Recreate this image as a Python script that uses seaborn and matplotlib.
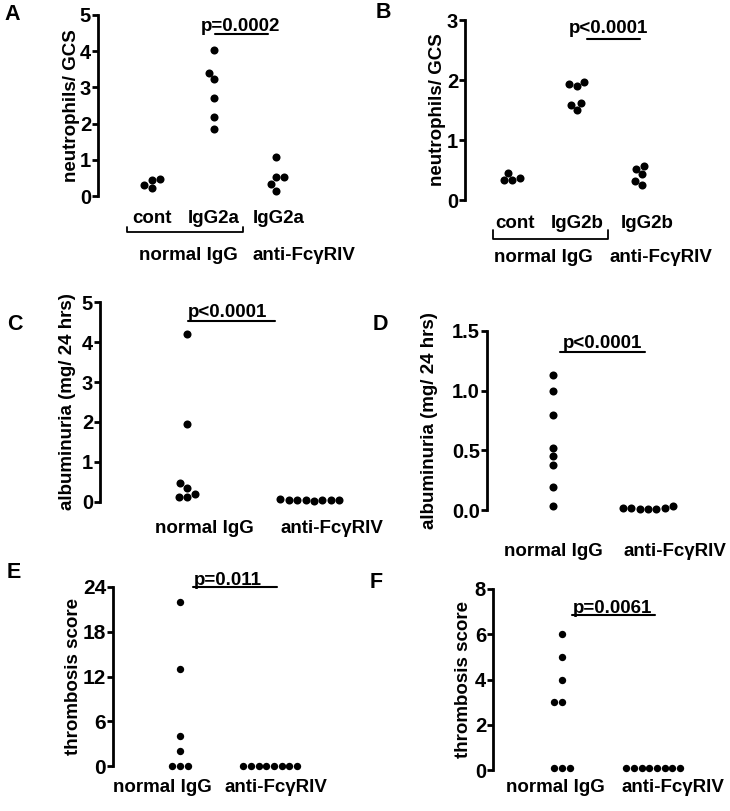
import numpy as np
import pandas as pd
import matplotlib
matplotlib.use("Agg")
import matplotlib.pyplot as plt
import matplotlib.transforms as mtransforms
import seaborn as sns

# panel A: neutrophils / GCS
a_keys = ["cont", "IgG2a", "anti IgG2a"]
a_ticklabels = ["cont", "IgG2a", "IgG2a"]
a_cont = [0.44, 0.21, 0.47, 0.30]
a_igg2a = [4.02, 3.40, 3.22, 2.70, 2.18, 1.85]
a_anti = [1.08, 0.52, 0.52, 0.32, 0.14]

# panel B
b_keys = ["cont", "IgG2b", "anti IgG2b"]
b_ticklabels = ["cont", "IgG2b", "IgG2b"]
b_cont = [0.37, 0.33, 0.45, 0.33]
b_igg2b = [1.94, 1.90, 1.97, 1.62, 1.50, 1.59]
b_anti = [0.57, 0.43, 0.52, 0.25, 0.32]

# two-group panels
two_keys = ["normal IgG", "anti-FcγRIV"]
c_normal = [4.21, 1.96, 0.48, 0.21, 0.13, 0.13, 0.36]
c_anti = [0.04, 0.04, 0.03, 0.04, 0.07, 0.04, 0.04, 0.04]
d_normal = [1.13, 1.00, 0.80, 0.52, 0.45, 0.38, 0.19, 0.03]
d_anti = [0.02, 0.01, 0.02, 0.01, 0.03, 0.01, 0.02]
e_normal = [22, 13, 4, 2, 0, 0, 0]
e_anti = [0, 0, 0, 0, 0, 0, 0, 0]
f_normal = [6, 5, 4, 3, 3, 0.08, 0.08, 0.08]
f_anti = [0.08, 0.08, 0.08, 0.08, 0.08, 0.08, 0.08, 0.08]

W, H = 730, 811
sns.set_style("white")
plt.rcParams["font.family"] = ["Liberation Sans", "DejaVu Sans"]
plt.rcParams["font.weight"] = "bold"
plt.rcParams["axes.labelweight"] = "bold"
plt.rcParams["text.color"] = "black"
plt.rcParams["axes.labelcolor"] = "black"
plt.rcParams["xtick.color"] = "black"
plt.rcParams["ytick.color"] = "black"

fig = plt.figure(figsize=(W / 100, H / 100), dpi=100)


def make_axes(left, top, bottom, cat0, step, right_units):
    x0 = -(cat0 - left) / step
    right = left + (right_units - x0) * step
    ax = fig.add_axes([left / W, 1 - bottom / H, (right - left) / W, (bottom - top) / H])
    return ax, (x0, right_units), right - left


def swarm(ax, keys, series, size):
    df = pd.DataFrame({
        "group": [k for k, v in zip(keys, series) for _ in v],
        "value": [x for v in series for x in v],
    })
    sns.swarmplot(data=df, x="group", y="value", order=keys, color="black",
                  size=size, linewidth=0, ax=ax)
    for c in ax.collections:
        c.set_clip_on(False)


def style(ax, xlim, ylim, yticks, ticklabels, tickpos, ylabel, label_px, left_px, width_px,
          xpad, tick_fs=14.5, fmt="{:g}"):
    ax.set_xlim(*xlim)
    ax.set_ylim(*ylim)
    ax.set_yticks(yticks)
    ax.set_yticklabels([fmt.format(t) for t in yticks], fontsize=tick_fs, fontweight="bold")
    ax.set_xticks(tickpos)
    ax.set_xticklabels(ticklabels, fontsize=13.5, fontweight="bold")
    ax.set_xlabel("")
    ax.set_ylabel(ylabel, fontsize=13.5, fontweight="bold")
    ax.yaxis.set_label_coords((label_px - left_px) / width_px, 0.5)
    ax.yaxis.label.set_verticalalignment("center")
    for s in ["top", "right", "bottom"]:
        ax.spines[s].set_visible(False)
    ax.spines["left"].set_linewidth(2)
    ax.spines["left"].set_color("black")
    ax.tick_params(axis="y", direction="out", length=4, width=2, pad=1, left=True)
    ax.tick_params(axis="x", length=0, pad=xpad)
    ax.grid(False)
    ax.patch.set_alpha(0)


def pvalue(ax, text, xt, yt, x1, x2, yl):
    ax.text(xt, yt, text, ha="center", va="baseline", fontsize=13.5,
            fontweight="bold", clip_on=False)
    ax.plot([x1, x2], [yl, yl], color="black", lw=1.5, clip_on=False)


def bracket(ax, x1, x2, ybot, ytop, lab_y, lab1_x, lab2_x):
    trans = mtransforms.blended_transform_factory(ax.transData, ax.transAxes)
    ax.plot([x1, x1, x2, x2], [ytop, ybot, ybot, ytop], color="black", lw=1.3,
            transform=trans, clip_on=False)
    ax.text(lab1_x, lab_y, "normal IgG", transform=trans, ha="center", va="baseline",
            fontsize=13.5, fontweight="bold")
    ax.text(lab2_x, lab_y, "anti-FcγRIV", transform=trans, ha="center", va="baseline",
            fontsize=13.5, fontweight="bold")


# A
ax, xl, wpx = make_axes(98, 15, 196, 152, 62, 2.6)
swarm(ax, a_keys, [a_cont, a_igg2a, a_anti], 5.8)
style(ax, xl, (0, 5), [0, 1, 2, 3, 4, 5], a_ticklabels, [0, 1, 2.05], "neutrophils/ GCS",
      72, 98, wpx, 10)
pvalue(ax, "p=0.0002", 1.42, 4.56, 1.02, 1.87, 4.48)
bracket(ax, -0.40, 1.47, -0.199, -0.171, -0.354, 0.58, 2.45)

# B
ax, xl, wpx = make_axes(465, 20, 200, 512, 65, 2.6)
swarm(ax, b_keys, [b_cont, b_igg2b, b_anti], 5.8)
style(ax, xl, (0, 3), [0, 1, 2, 3], b_ticklabels, [0.05, 1, 2.08], "neutrophils/ GCS",
      438, 465, wpx, 11)
pvalue(ax, "p<0.0001", 1.48, 2.78, 1.15, 1.97, 2.68)
bracket(ax, -0.29, 1.48, -0.217, -0.167, -0.344, 0.49, 2.29)

# C
ax, xl, wpx = make_axes(100, 302, 502, 187, 127, 1.45)
swarm(ax, two_keys, [c_normal, c_anti], 5.8)
style(ax, xl, (0, 5), [0, 1, 2, 3, 4, 5], two_keys, [0.14, 1.14], "albuminuria (mg/ 24 hrs)",
      67, 100, wpx, 13)
pvalue(ax, "p<0.0001", 0.32, 4.63, 0.01, 0.69, 4.53)

# D
ax, xl, wpx = make_axes(487, 331, 510, 553, 95, 1.6)
swarm(ax, two_keys, [d_normal, d_anti], 5.8)
style(ax, xl, (0, 1.5), [0, 0.5, 1.0, 1.5], two_keys, [0.0, 1.28], "albuminuria (mg/ 24 hrs)",
      429, 487, wpx, 24, fmt="{:.1f}")
pvalue(ax, "p<0.0001", 0.52, 1.357, 0.07, 0.97, 1.324)

# E
ax, xl, wpx = make_axes(113, 587, 766, 180, 94, 1.6)
swarm(ax, two_keys, [e_normal, e_anti], 5.3)
style(ax, xl, (0, 24), [0, 6, 12, 18, 24], two_keys, [-0.19, 1.02], "thrombosis score",
      73, 113, wpx, 9.4, tick_fs=15)
pvalue(ax, "p=0.011", 0.51, 24.27, 0.14, 1.03, 24.0)

# F
ax, xl, wpx = make_axes(493, 589, 770, 562, 95, 1.6)
swarm(ax, two_keys, [f_normal, f_anti], 5.3)
style(ax, xl, (0, 8), [0, 2, 4, 6, 8], two_keys, [-0.07, 1.17], "thrombosis score",
      464, 493, wpx, 6.5)
pvalue(ax, "p=0.0061", 0.53, 6.95, 0.105, 0.98, 6.85)

for letter, (px, py) in zip("ABCDEF", [(12, 14), (383, 13), (15, 325), (380, 325),
                                        (14, 573), (376, 583)]):
    fig.text(px / W, 1 - py / H, letter, fontsize=15.5, fontweight="bold",
             ha="center", va="center")

fig.savefig("out.png", dpi=100)
